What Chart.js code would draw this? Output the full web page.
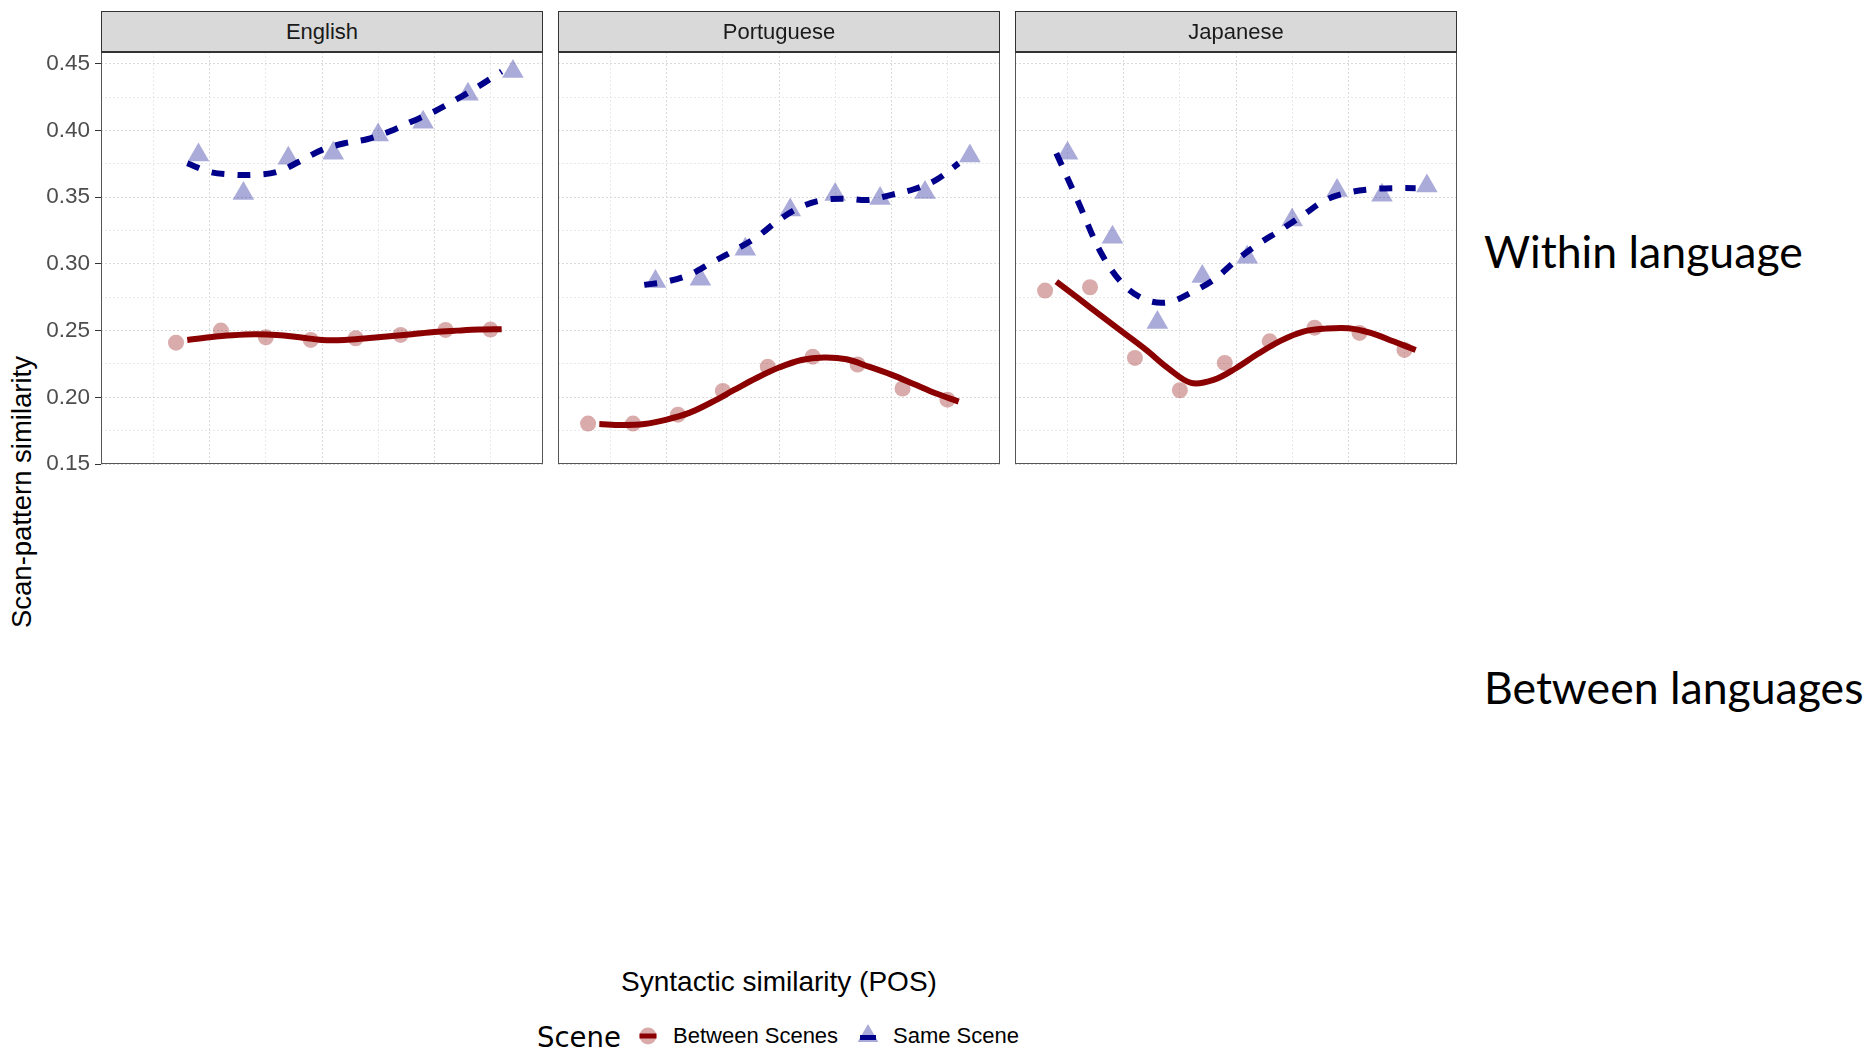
<!DOCTYPE html>
<html>
<head>
<meta charset="utf-8">
<title>Scan-pattern similarity by syntactic similarity</title>
<script src="https://cdn.jsdelivr.net/npm/chart.js@4/dist/chart.umd.min.js"></script>
<style>
  html, body { margin: 0; padding: 0; background: #fff; }
  body { width: 1870px; height: 1048px; position: relative; overflow: hidden;
         font-family: "Liberation Sans", Arial, sans-serif; }
  canvas { position: absolute; }
  .strip { position: absolute; top: 11px; height: 42px; box-sizing: border-box;
           background: #d9d9d9; border: 1px solid #333; border-bottom-width: 2px;
           text-align: center; font-size: 22px; line-height: 39px; color: #1a1a1a; z-index: 2; }
  .txt { position: absolute; white-space: nowrap; }
  .ytitle { left: -178px; top: 476px; width: 400px; height: 32px; line-height: 32px; text-align: center;
            font-size: 27.5px; color: #000; transform: rotate(-90deg); }
  .xtitle { left: 479px; top: 966px; width: 600px; height: 32px; line-height: 32px; text-align: center;
            font-size: 28px; color: #000; }
  .side { left: 1484px; height: 60px; line-height: 60px; font-family: Lato, sans-serif; font-size: 44.6px; color: #000; }
  .legtitle { left: 537px; top: 1021px; height: 32px; line-height: 32px; font-family: "DejaVu Sans", sans-serif;
              font-size: 27.5px; color: #000; }
  .leglab { top: 1020px; height: 32px; line-height: 32px; font-size: 22px; color: #000; }
</style>
</head>
<body>

<div class="txt ytitle">Scan-pattern similarity</div>
<div class="txt xtitle">Syntactic similarity (POS)</div>
<div class="txt side" style="top:221px">Within language</div>
<div class="txt side" style="top:657px">Between languages</div>

<div class="txt legtitle">Scene</div>
<canvas id="key_between" width="24" height="24" style="left:636px;top:1024px"></canvas>
<div class="txt leglab" style="left:673px">Between Scenes</div>
<canvas id="key_same" width="26" height="26" style="left:855px;top:1023px"></canvas>
<div class="txt leglab" style="left:893px">Same Scene</div>

<script>
// facets and x bins (syntactic similarity)
const languages = ['English', 'Portuguese', 'Japanese'];
const bins = [0.1, 0.2, 0.3, 0.4, 0.5, 0.6, 0.7, 0.8, 0.9];
const fitX = [0.10, 0.15, 0.20, 0.25, 0.30, 0.35, 0.40, 0.45, 0.50, 0.55, 0.60, 0.65, 0.70, 0.75, 0.80, 0.85, 0.90];

// binned means
const englishBetween = [null, 0.241, 0.250, 0.245, 0.243, 0.2443, 0.2468, 0.2505, 0.2508];
const englishSame = [null, 0.3817, 0.3529, 0.3793, 0.3829, 0.3967, 0.4063, 0.4272, 0.4442];
const portugueseBetween = [0.1803, 0.1803, 0.187, 0.2048, 0.223, 0.2305, 0.2246, 0.2066, 0.1982];
const portugueseSame = [null, 0.2868, 0.2885, 0.311, 0.3405, 0.352, 0.349, 0.3535, 0.381];
const japaneseBetween = [0.280, 0.2825, 0.2295, 0.2053, 0.2258, 0.242, 0.2522, 0.2483, 0.2355];
const japaneseSame = [0.383, 0.320, 0.256, 0.2905, 0.305, 0.333, 0.355, 0.3515, 0.3585];

// loess fits
const englishBetweenFit = [null, null, 0.243, 0.245, 0.2465, 0.2473, 0.2468, 0.245, 0.243, 0.243, 0.2443, 0.2458, 0.2473, 0.249, 0.250, 0.2508, 0.251];
const englishSameFit = [null, null, 0.3755, 0.369, 0.367, 0.3668, 0.369, 0.3768, 0.3855, 0.3905, 0.3935, 0.3993, 0.4068, 0.4143, 0.4235, 0.4335, 0.4443];
const portugueseBetweenFit = [0.180, 0.1793, 0.180, 0.1833, 0.1883, 0.1963, 0.2055, 0.2145, 0.2223, 0.228, 0.2298, 0.2285, 0.223, 0.217, 0.210, 0.2028, 0.1968];
const portugueseSameFit = [null, null, 0.2843, 0.2868, 0.2918, 0.301, 0.310, 0.320, 0.333, 0.343, 0.348, 0.3488, 0.348, 0.3518, 0.356, 0.363, 0.3755];
const japaneseBetweenFit = [0.2868, 0.274, 0.261, 0.2483, 0.2355, 0.2215, 0.2108, 0.213, 0.2218, 0.2328, 0.2425, 0.2493, 0.2515, 0.2518, 0.2483, 0.242, 0.2355];
const japaneseSameFit = [0.383, 0.3455, 0.308, 0.2843, 0.273, 0.2713, 0.2785, 0.288, 0.3025, 0.315, 0.3255, 0.3368, 0.348, 0.3535, 0.356, 0.3568, 0.3568];

// axes
const yGridValues = [0.15, 0.175, 0.20, 0.225, 0.25, 0.275, 0.30, 0.325, 0.35, 0.375, 0.40, 0.425, 0.45];
const yTickValues = [0.15, 0.20, 0.25, 0.30, 0.35, 0.40, 0.45];
const yTickLabels = ['0.15', '0.20', '0.25', '0.30', '0.35', '0.40', '0.45'];
const xGridValues = [0.125, 0.25, 0.375, 0.5, 0.625, 0.75, 0.875];

const series = {
  English: [englishBetween, englishSame, englishBetweenFit, englishSameFit],
  Portuguese: [portugueseBetween, portugueseSame, portugueseBetweenFit, portugueseSameFit],
  Japanese: [japaneseBetween, japaneseSame, japaneseBetweenFit, japaneseSameFit]
};

const DODGE = 0.025;
const RED = '#8b0000', BLUE = '#00008b';
const RED_PT = 'rgba(139, 0, 0, 0.33)', BLUE_PT = 'rgba(0, 0, 139, 0.33)';

const panelLeft = [101, 558, 1015];
const panelW = 442, panelTop = 52, panelH = 412, axisW = 101, PAD = 30;

function xy(xs, ys, shift) {
  const out = [];
  xs.forEach((x, i) => { if (ys[i] != null) out.push({x: x + shift, y: ys[i]}); });
  return out;
}

function isMajor(v) {
  return yTickValues.some(t => Math.abs(t - v) < 1e-6);
}

const panelBox = {
  id: 'panelBox',
  afterDraw(chart) {
    const {ctx, chartArea: a} = chart;
    ctx.save();
    ctx.strokeStyle = '#555';
    ctx.lineWidth = 1;
    ctx.strokeRect(a.left + 0.5, a.top + 0.5, a.width - 1, a.height - 1);
    ctx.restore();
  }
};

languages.forEach((lang, i) => {
  const first = i === 0;
  const leftEdge = first ? 0 : panelLeft[i] - 2;
  const canvas = document.createElement('canvas');
  canvas.width = panelLeft[i] + panelW + 2 - leftEdge;
  canvas.height = panelH + 2 * PAD;
  canvas.style.left = leftEdge + 'px';
  canvas.style.top = (panelTop - PAD) + 'px';
  document.body.appendChild(canvas);

  const strip = document.createElement('div');
  strip.className = 'strip';
  strip.style.left = panelLeft[i] + 'px';
  strip.style.width = panelW + 'px';
  strip.textContent = lang;
  document.body.appendChild(strip);

  const [between, same, betweenFit, sameFit] = series[lang];

  new Chart(canvas, {
    type: 'line',
    data: {
      datasets: [
        {
          label: 'Between Scenes fit',
          data: xy(fitX, betweenFit, 0),
          borderColor: RED, borderWidth: 6, pointRadius: 0,
          tension: 0.35, borderCapStyle: 'butt', order: 0
        },
        {
          label: 'Same Scene fit',
          data: xy(fitX, sameFit, 0),
          borderColor: BLUE, borderWidth: 6, borderDash: [13, 13], pointRadius: 0,
          tension: 0.35, borderCapStyle: 'butt', order: 0
        },
        {
          label: 'Between Scenes',
          data: xy(bins, between, -DODGE),
          showLine: false, pointStyle: 'circle', pointRadius: 8,
          pointBackgroundColor: RED_PT, pointBorderWidth: 0, order: 1
        },
        {
          label: 'Same Scene',
          data: xy(bins, same, DODGE),
          showLine: false, pointStyle: 'triangle', pointRadius: 12.5,
          pointBackgroundColor: BLUE_PT, pointBorderWidth: 0, order: 1
        }
      ]
    },
    options: {
      responsive: false,
      animation: false,
      devicePixelRatio: 1,
      layout: { autoPadding: false, padding: { top: PAD, bottom: PAD, left: first ? 0 : 2, right: 2 } },
      plugins: { legend: { display: false }, tooltip: { enabled: false } },
      scales: {
        x: {
          type: 'linear', min: 0.008, max: 0.992,
          afterBuildTicks: s => { s.ticks = xGridValues.map(v => ({value: v})); },
          afterFit: s => { s.height = 0; },
          ticks: { display: false },
          grid: { color: c => (c.tick && [0.25, 0.5, 0.75].includes(c.tick.value)) ? '#dadada' : '#e8e8e8',
                  lineWidth: 1, drawTicks: false },
          border: { display: false, dash: [2, 2] }
        },
        y: {
          type: 'linear', min: 0.15, max: 0.4589,
          afterBuildTicks: s => { s.ticks = yGridValues.map(v => ({value: v})); },
          afterFit: s => { s.width = first ? axisW : 0; },
          ticks: {
            display: first,
            padding: 5,
            color: '#4d4d4d',
            font: { family: '"Liberation Sans", Arial, sans-serif', size: 22.5 },
            callback: v => {
              const k = yTickValues.findIndex(t => Math.abs(t - v) < 1e-6);
              return k >= 0 ? yTickLabels[k] : '';
            }
          },
          grid: {
            color: c => (c.tick && isMajor(c.tick.value)) ? '#dadada' : '#e8e8e8',
            lineWidth: 1,
            drawTicks: first,
            tickLength: 6,
            tickColor: c => (c.tick && isMajor(c.tick.value)) ? '#333' : 'rgba(0,0,0,0)'
          },
          border: { display: false, dash: [2, 2] }
        }
      }
    },
    plugins: [panelBox]
  });
});

// legend keys
function drawKey(id, shape) {
  const cv = document.getElementById(id);
  const g = cv.getContext('2d');
  const cx = cv.width / 2, cy = cv.height / 2;
  if (shape === 'circle') {
    g.fillStyle = RED_PT;
    g.beginPath(); g.arc(cx, cy, 8.5, 0, Math.PI * 2); g.fill();
    g.fillStyle = RED;
    g.fillRect(cx - 8.5, cy - 2.5, 17, 5);
  } else {
    const r = 12;
    g.fillStyle = BLUE_PT;
    g.beginPath();
    g.moveTo(cx, cy - r);
    g.lineTo(cx + r * Math.sin(Math.PI / 3), cy + r / 2);
    g.lineTo(cx - r * Math.sin(Math.PI / 3), cy + r / 2);
    g.closePath(); g.fill();
    g.fillStyle = BLUE;
    g.fillRect(cx - 8, cy - 1, 16, 5);
  }
}
drawKey('key_between', 'circle');
drawKey('key_same', 'triangle');
</script>
</body>
</html>
